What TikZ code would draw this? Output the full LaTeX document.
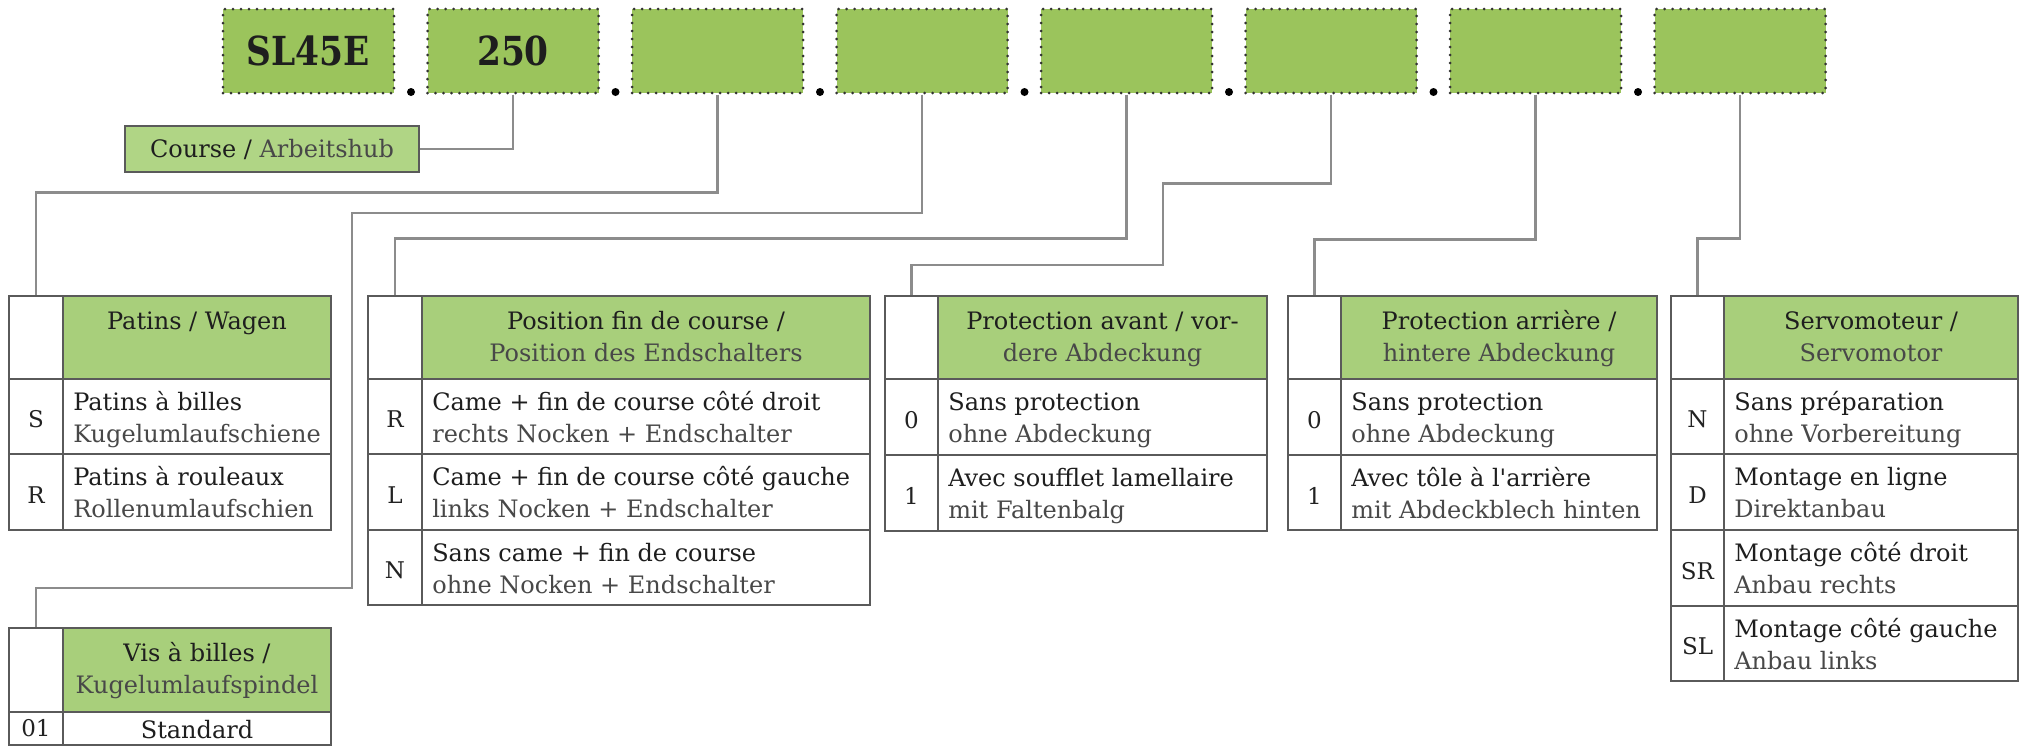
\documentclass[tikz,border=0pt]{standalone}
\usepackage{fontspec}
\setmainfont{DejaVu Serif}
\newfontfamily\bigfont[FakeStretch=0.86]{DejaVu Serif}
\definecolor{topgreen}{HTML}{9BC45C}
\definecolor{hdrgreen}{HTML}{A8CF7B}
\definecolor{coursegreen}{HTML}{B0D585}
\definecolor{dotcol}{HTML}{333333}
\definecolor{tline}{HTML}{5A5A5A}
\definecolor{conncol}{HTML}{8C8C8C}
\definecolor{frcol}{HTML}{1E1E1E}
\definecolor{decol}{HTML}{484848}
\definecolor{codecol}{HTML}{222222}
\tikzset{
  topbox/.style={fill=topgreen, draw=dotcol, line width=3pt, dash pattern=on 0pt off 8pt, line cap=round,
    minimum width=171pt, minimum height=84pt, inner sep=0pt, font=\bigfont\bfseries\fontsize{40}{44}\selectfont, text=frcol},
  sepdot/.style={circle, fill=black, inner sep=0pt, minimum size=8pt},
  coursebox/.style={fill=coursegreen, draw=tline, line width=2pt, minimum width=294pt, minimum height=46pt, inner sep=0pt,
    font=\fontsize{24}{32}\selectfont},
  cellbox/.style={draw=tline, line width=1.8pt, fill=white, inner sep=0pt},
  hdrcell/.style={draw=tline, line width=1.8pt, fill=hdrgreen, inner sep=0pt},
  rowtxt/.style={inner sep=0pt, align=left, anchor=north west, font=\fontsize{24}{32}\selectfont},
  hdrtxt/.style={inner sep=0pt, align=center, anchor=north, font=\fontsize{24}{32}\selectfont},
  codetxt/.style={inner sep=0pt, font=\fontsize{23}{24}\selectfont, text=codecol},
  conn/.style={draw=conncol, line width=2.2pt}
}
% #1 name, #2 style, #3 x0, #4 x1, #5 y0, #6 y1
\newcommand\mkcell[6]{\node[#2, minimum width={#4-#3}, minimum height={#6-#5}] (#1) at ({(#3+#4)/2},{(#5+#6)/2}) {};}
% header: #1 name, #2 x0, #3 x1, #4 x2, #5 y0, #6 y1, #7 fr, #8 de
\newcommand\hdrrow[8]{%
  \mkcell{#1C}{cellbox}{#2}{#3}{#5}{#6}
  \mkcell{#1H}{hdrcell}{#3}{#4}{#5}{#6}
  \node[hdrtxt] (#1Ht) at ([yshift=-12pt]#1H.north) {\strut\textcolor{frcol}{#7}\\\strut\textcolor{decol}{#8}};}
% option row: #1 name, #2 x0, #3 x1, #4 x2, #5 y0, #6 y1, #7 code, #8 fr, #9 de
\newcommand\optrow[9]{%
  \mkcell{#1C}{cellbox}{#2}{#3}{#5}{#6}
  \mkcell{#1T}{cellbox}{#3}{#4}{#5}{#6}
  \node[codetxt] (#1Ct) at ([yshift=-3pt]#1C.center) {#7};
  \node[rowtxt] (#1Tt) at ([xshift=11pt,yshift=-10pt]#1T.north west) {\strut\textcolor{frcol}{#8}\\\strut\textcolor{decol}{#9}};}
\begin{document}
\begin{tikzpicture}[x=1pt,y=-1pt]
\useasboundingbox[fill=white] (0,0) rectangle (2026,748);
% top code boxes
\node[topbox] (b1) at (308.5,51) {SL45E};
\node[topbox] (b2) at (513,51) {250};
\node[topbox] (b3) at (717.5,51) {};
\node[topbox] (b4) at (922,51) {};
\node[topbox] (b5) at (1126.5,51) {};
\node[topbox] (b6) at (1331,51) {};
\node[topbox] (b7) at (1535.5,51) {};
\node[topbox] (b8) at (1740,51) {};
\node[sepdot] (d1) at (411,92) {};
\node[sepdot] (d2) at (615.5,92) {};
\node[sepdot] (d3) at (820,92) {};
\node[sepdot] (d4) at (1024.5,92) {};
\node[sepdot] (d5) at (1229,92) {};
\node[sepdot] (d6) at (1433.5,92) {};
\node[sepdot] (d7) at (1638,92) {};
% course
\node[coursebox] (course) at (272,149) {\textcolor{frcol}{Course /} \textcolor{decol}{Arbeitshub}};
% Patins / Wagen
\hdrrow{pat}{9}{63}{331}{296}{379}{Patins / Wagen}{}
\optrow{patS}{9}{63}{331}{379}{454}{S}{Patins à billes}{Kugelumlaufschiene}
\optrow{patR}{9}{63}{331}{454}{530}{R}{Patins à rouleaux}{Rollenumlaufschien}
% Vis a billes
\hdrrow{vis}{9}{63}{331}{628}{712}{Vis à billes /}{Kugelumlaufspindel}
\mkcell{visAC}{cellbox}{9}{63}{712}{745}
\mkcell{visAT}{cellbox}{63}{331}{712}{745}
\node[codetxt] (visACt) at (visAC.center) {01};
\node[inner sep=0pt, font=\fontsize{24}{32}\selectfont, text=frcol] (visATt) at ([yshift=-1pt]visAT.center) {Standard};
% Position fin de course
\hdrrow{pos}{368}{422}{870}{296}{379}{Position fin de course /}{Position des Endschalters}
\optrow{posR}{368}{422}{870}{379}{454}{R}{Came + fin de course côté droit}{rechts Nocken + Endschalter}
\optrow{posL}{368}{422}{870}{454}{530}{L}{Came + fin de course côté gauche}{links Nocken + Endschalter}
\optrow{posN}{368}{422}{870}{530}{605}{N}{Sans came + fin de course}{ohne Nocken + Endschalter}
% Protection avant
\hdrrow{pav}{885}{938}{1267}{296}{379}{Protection avant / vor-}{dere Abdeckung}
\optrow{pavO}{885}{938}{1267}{379}{455}{0}{Sans protection}{ohne Abdeckung}
\optrow{pavI}{885}{938}{1267}{455}{531}{1}{Avec soufflet lamellaire}{mit Faltenbalg}
% Protection arriere
\hdrrow{par}{1288}{1341}{1657}{296}{379}{Protection arrière /}{hintere Abdeckung}
\optrow{parO}{1288}{1341}{1657}{379}{455}{0}{Sans protection}{ohne Abdeckung}
\optrow{parI}{1288}{1341}{1657}{455}{530}{1}{Avec tôle à l\textquotesingle arrière}{mit Abdeckblech hinten}
% Servomoteur
\hdrrow{srv}{1671}{1724}{2018}{296}{379}{Servomoteur /}{Servomotor}
\optrow{srvN}{1671}{1724}{2018}{379}{454}{N}{Sans préparation}{ohne Vorbereitung}
\optrow{srvD}{1671}{1724}{2018}{454}{530}{D}{Montage en ligne}{Direktanbau}
\optrow{srvSR}{1671}{1724}{2018}{530}{606}{SR}{Montage côté droit}{Anbau rechts}
\optrow{srvSL}{1671}{1724}{2018}{606}{681}{SL}{Montage côté gauche}{Anbau links}
% connectors
\draw[conn] (b2.south) |- (course.east);
\draw[conn] (b3.south) -- ++(0,98) -| (patC.north);
\draw[conn] (b4.south) |- (352,213) -- (352,588) -| (visC.north);
\draw[conn] (b5.south) -- ++(0,144) -| (posC.north);
\draw[conn] (b6.south) -- ++(0,89) -| (1163,265) -| (pavC.north);
\draw[conn] (b7.south) -- ++(0,145) -| (parC.north);
\draw[conn] (b8.south) -- ++(0,144) -| (srvC.north);
\end{tikzpicture}
\end{document}
